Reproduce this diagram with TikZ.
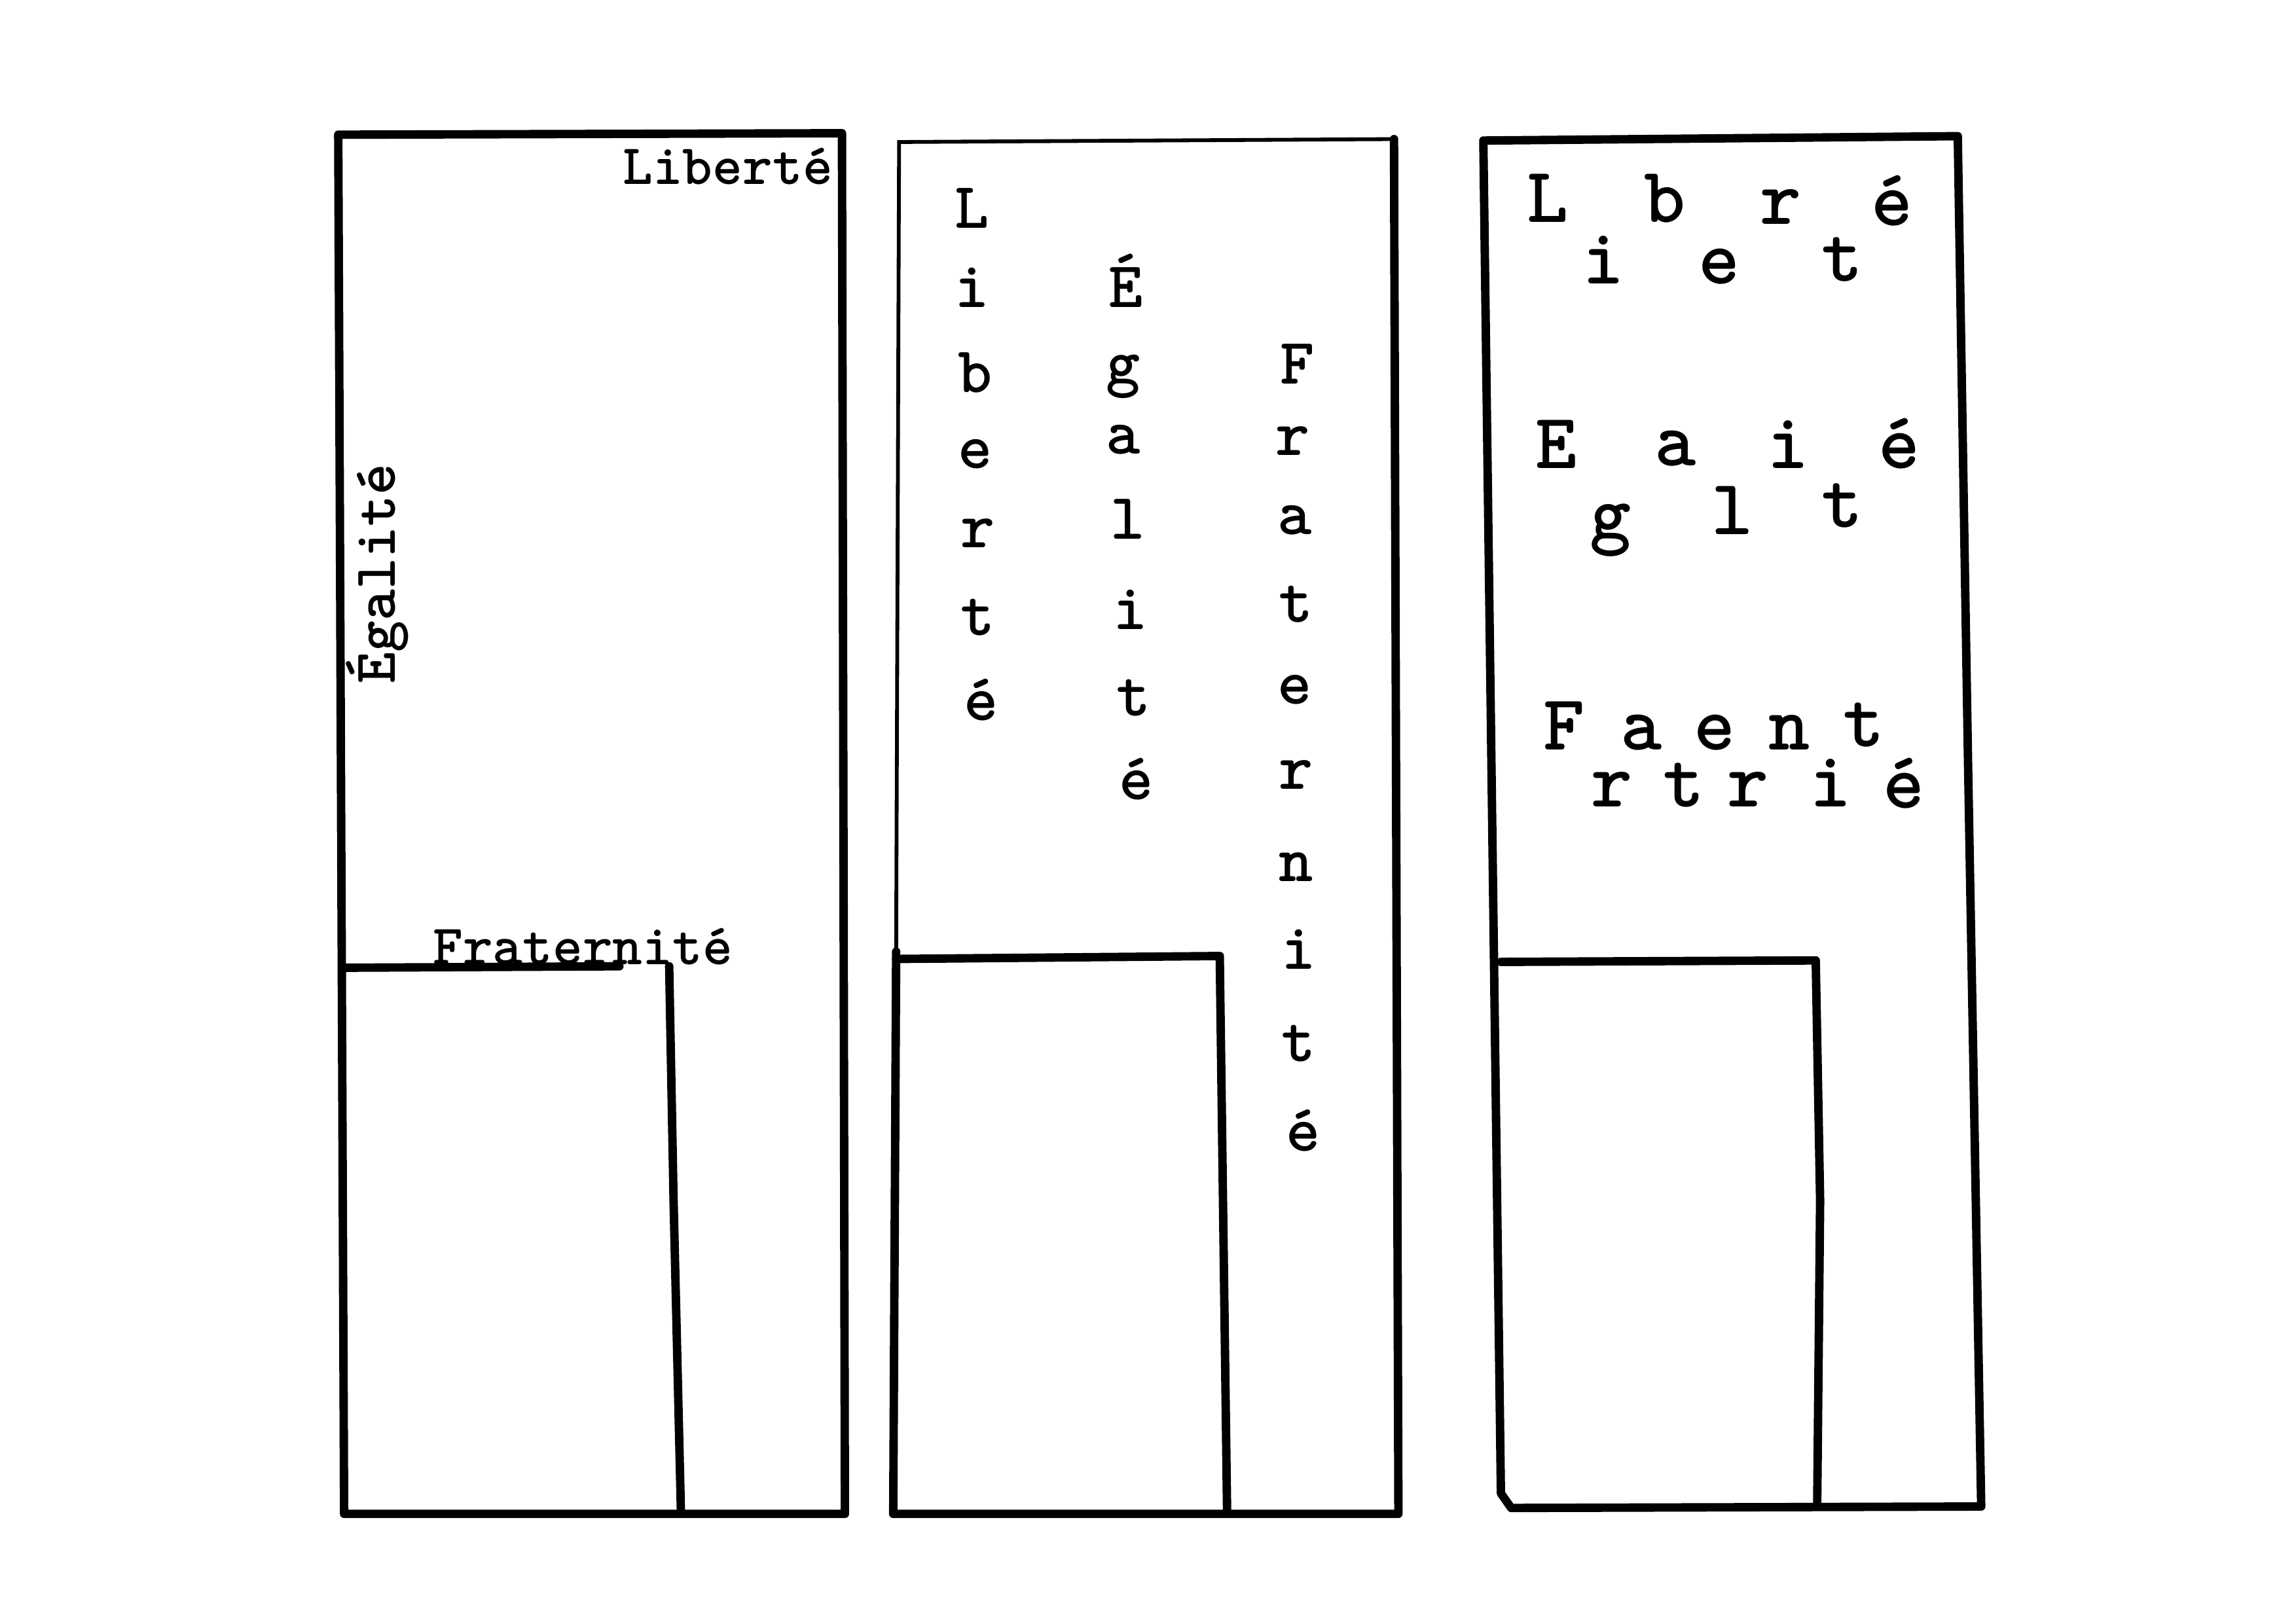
\documentclass[tikz,border=0pt]{standalone}
\tikzset{%
  % Specifications for style of lines and letters:
	panel/.style = {draw, line width=3.1pt, line join=round, line cap=round},
	faint/.style = {draw, line width=1.4pt, line cap=round},
	word/.style = {inner sep=0pt, anchor=base, font=\ttfamily\bfseries\fontsize{21}{21}\selectfont},
	chr/.style = {word, font=\ttfamily\bfseries\fontsize{24}{24}\selectfont},
	bigchr/.style = {word, font=\ttfamily\bfseries\fontsize{29}{29}\selectfont},
}
\begin{document}
\begin{tikzpicture}[
    x=0.018941cm, y=-0.018941cm, % Work in pixels of the 1568 x 1109 sheet
]
  \fill[white] (0,0) rectangle (1568,1109);
  % First panel: words along the edges
  \draw[panel] (231,92) -- (575,91) -- (577,1034) -- (235,1034) -- cycle;
  \draw[panel] (235,661) -- (423,660);
  \draw[panel] (457,660) -- (460,820) -- (465,1032);
  \node (libA) [word] at (497,126) {Liberté};
  \node (egaA) [word, rotate=90, font=\ttfamily\bfseries\fontsize{22}{22}\selectfont] at (270,392) {Égalité};
  \node (fraA) [word] at (398,659) {Fraternité};

  % Second panel: words running down in columns
  \draw[faint] (612,650) -- (614,97) -- (952,95);
  \draw[panel] (952,95) -- (955,1034) -- (610,1034) -- (612,650);
  \draw[panel] (612,655) -- (833,653) -- (838,1032);
  \node (lib1) [chr] at (664,156) {L};
  \node (lib2) [chr] at (664,210) {i};
  \node (lib3) [chr] at (666,268) {b};
  \node (lib4) [chr] at (666,320) {e};
  \node (lib5) [chr] at (668,374) {r};
  \node (lib6) [chr] at (668,434) {t};
  \node (lib7) [chr] at (670,492) {é};
  \node (ega1) [chr] at (769,210) {É};
  \node (ega2) [chr] at (767,262) {g};
  \node (ega3) [chr] at (767,310) {a};
  \node (ega4) [chr] at (770,368) {l};
  \node (ega5) [chr] at (772,430) {i};
  \node (ega6) [chr] at (774,489) {t};
  \node (ega7) [chr] at (776,546) {é};
  \node (fra1) [chr] at (886,262) {F};
  \node (fra2) [chr] at (883,311) {r};
  \node (fra3) [chr] at (884,365) {a};
  \node (fra4) [chr] at (885,425) {t};
  \node (fra5) [chr] at (884,481) {e};
  \node (fra6) [chr] at (885,539) {r};
  \node (fra7) [chr] at (885,602) {n};
  \node (fra8) [chr] at (887,662) {i};
  \node (fra9) [chr] at (887,725) {t};
  \node (fra10) [chr] at (890,786) {é};

  % Third panel: letters split over two rows
  \draw[panel] (1013,96) -- (1337,93) -- (1344,520) -- (1353,1029)
        -- (1032,1030) -- (1025,1020) -- cycle;
  \draw[panel] (1025,657) -- (1240,656) -- (1243,820) -- (1241,1028);
  \node (libB1) [bigchr] at (1057,152) {L};
  \node (libB2) [bigchr] at (1095,194) {i};
  \node (libB3) [bigchr] at (1137,152) {b};
  \node (libB4) [bigchr] at (1174,194) {e};
  \node (libB5) [bigchr] at (1216,153) {r};
  \node (libB6) [bigchr] at (1258,192) {t};
  \node (libB7) [bigchr] at (1292,154) {é};
  \node (egaB1) [bigchr] at (1063,320) {E};
  \node (egaB2) [bigchr] at (1100,368) {g};
  \node (egaB3) [bigchr] at (1144,318) {a};
  \node (egaB4) [bigchr] at (1183,365) {l};
  \node (egaB5) [bigchr] at (1221,320) {i};
  \node (egaB6) [bigchr] at (1258,360) {t};
  \node (egaB7) [bigchr] at (1297,320) {é};
  \node (fraB1) [bigchr] at (1068,512) {F};
  \node (fraB2) [bigchr] at (1101,551) {r};
  \node (fraB3) [bigchr] at (1121,512) {a};
  \node (fraB4) [bigchr] at (1150,551) {t};
  \node (fraB5) [bigchr] at (1171,512) {e};
  \node (fraB6) [bigchr] at (1194,551) {r};
  \node (fraB7) [bigchr] at (1222,512) {n};
  \node (fraB8) [bigchr] at (1250,551) {i};
  \node (fraB9) [bigchr] at (1273,510) {t};
  \node (fraB10) [bigchr] at (1300,552) {é};
\end{tikzpicture}
\end{document}
